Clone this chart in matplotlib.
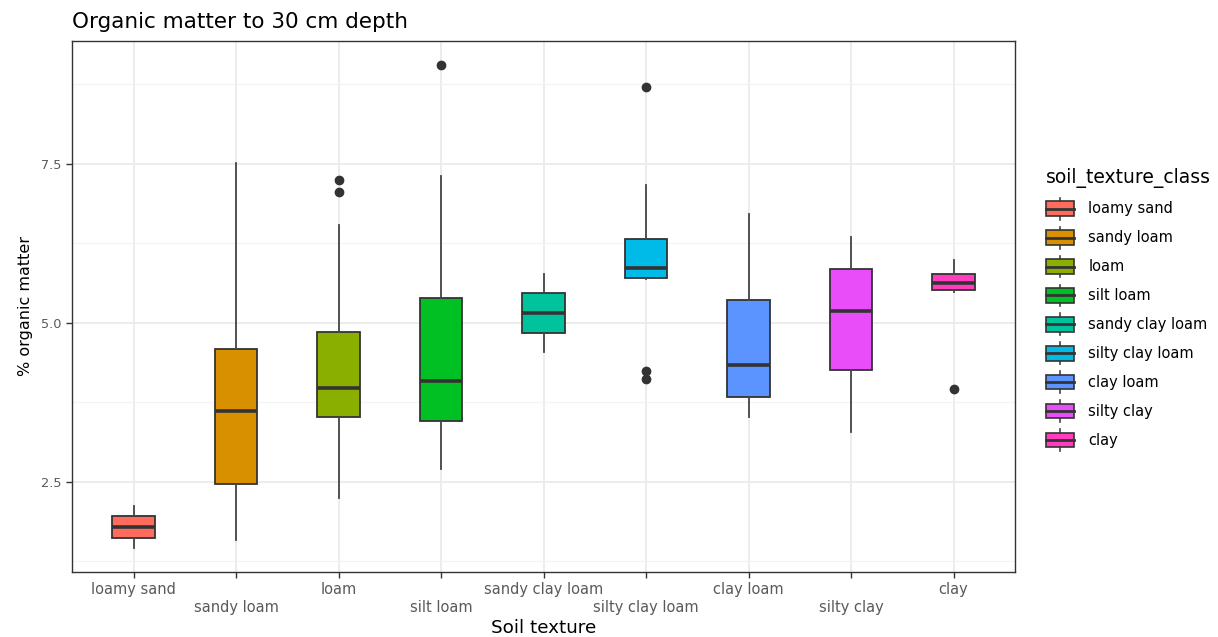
import matplotlib
matplotlib.use("Agg")
import matplotlib.pyplot as plt
from matplotlib.legend_handler import HandlerBase
from matplotlib.patches import Rectangle, Patch
from matplotlib.lines import Line2D

categories = ["loamy sand", "sandy loam", "loam", "silt loam", "sandy clay loam",
              "silty clay loam", "clay loam", "silty clay", "clay"]
whisker_low = [1.46, 1.58, 2.24, 2.70, 4.54, 5.68, 3.51, 3.28, 5.49]
q1          = [1.62, 2.46, 3.52, 3.45, 4.84, 5.70, 3.83, 4.25, 5.51]
median      = [1.78, 3.61, 3.97, 4.08, 5.16, 5.86, 4.34, 5.19, 5.62]
q3          = [1.96, 4.58, 4.86, 5.39, 5.47, 6.31, 5.35, 5.84, 5.77]
whisker_high= [2.11, 7.51, 6.54, 7.30, 5.77, 7.17, 6.71, 6.35, 5.98]
outliers    = [[], [], [7.06, 7.24], [9.06], [], [8.70, 4.24, 4.12], [], [], [3.96]]
colors = ["#FF6C5E", "#D89000", "#8BAF00", "#00C024", "#00C39E",
          "#00BBE8", "#5B93FF", "#E94DFA", "#FF3DBE"]
yticks = [2.5, 5.0, 7.5]

W, H = 1218, 637
fig = plt.figure(figsize=(W / 100, H / 100), dpi=100)
ax = fig.add_axes([72 / W, 1 - 572 / H, (1015 - 72) / W, (572 - 41) / H])

edge = "#333333"
stats = []
for i, c in enumerate(categories):
    stats.append(dict(label=c, whislo=whisker_low[i], q1=q1[i], med=median[i],
                      q3=q3[i], whishi=whisker_high[i], fliers=outliers[i]))
positions = list(range(1, len(categories) + 1))
bp = ax.bxp(stats, positions=positions, widths=0.41, patch_artist=True,
            showcaps=False,
            boxprops=dict(edgecolor=edge, linewidth=1.3),
            medianprops=dict(color=edge, linewidth=2.6, solid_capstyle="butt"),
            whiskerprops=dict(color="#444444", linewidth=1.3),
            flierprops=dict(marker="o", markerfacecolor=edge, markeredgecolor=edge,
                            markersize=6, linestyle="none"),
            zorder=3)
for patch, col in zip(bp["boxes"], colors):
    patch.set_facecolor(col)

ax.set_xlim(0.4, len(categories) + 0.6)
ax.set_ylim(1.08, 9.43)
ax.set_yticks(yticks)
ax.set_yticklabels([f"{v:.1f}" for v in yticks])
ax.set_yticks([1.25, 3.75, 6.25, 8.75], minor=True)
ax.set_xticks(positions)
ax.set_xticklabels(categories)

ax.grid(True, which="major", color="#EBEBEB", linewidth=1.3, zorder=0)
ax.grid(True, which="minor", axis="y", color="#F3F3F3", linewidth=0.8, zorder=0)
ax.set_axisbelow(True)
for s in ax.spines.values():
    s.set_color("#333333")
    s.set_linewidth(1.0)
ax.tick_params(axis="both", which="major", color="#333333", length=4, width=1.0,
               labelsize=9.3, labelcolor="#5A5A5A")
ax.tick_params(axis="x", which="major", labelsize=10.5)
ax.tick_params(axis="y", which="minor", length=0)
ticks = ax.xaxis.get_major_ticks()
for i, t in enumerate(ticks):
    t.set_pad(3 if i % 2 == 0 else 16)

ax.set_xlabel("Soil texture", fontsize=13.2, labelpad=3)
ax.set_ylabel("% organic matter", fontsize=11.5, labelpad=6)
ax.set_title("Organic matter to 30 cm depth", fontsize=15.5, loc="left", pad=9)


class BoxHandler(HandlerBase):
    def create_artists(self, legend, orig_handle, xdescent, ydescent, width, height,
                       fontsize, trans):
        x0, y0 = -xdescent, -ydescent
        cx = x0 + width / 2
        col = orig_handle.get_facecolor()
        arts = [
            Line2D([cx, cx], [y0 - 0.15 * height, y0 + 1.15 * height], color="#444444",
                   linewidth=1.2, transform=trans),
            Rectangle((x0, y0 + 0.075 * height), width, 0.85 * height, facecolor=col,
                      edgecolor=edge, linewidth=1.2, transform=trans),
            Line2D([x0, x0 + width], [y0 + 0.5 * height] * 2, color=edge,
                   linewidth=2.0, transform=trans),
        ]
        return arts


handles = [Patch(facecolor=c, edgecolor=edge) for c in colors]
leg = fig.legend(handles, categories, handler_map={Patch: BoxHandler()},
                 loc="upper left", bbox_to_anchor=(1033 / W, 1 - 155 / H),
                 frameon=False, fontsize=10.5, title="soil_texture_class",
                 title_fontsize=13.5, handlelength=1.9, handleheight=1.4,
                 labelspacing=0.83, handletextpad=1.0, alignment="left")

fig.savefig("out.png", dpi=100)
